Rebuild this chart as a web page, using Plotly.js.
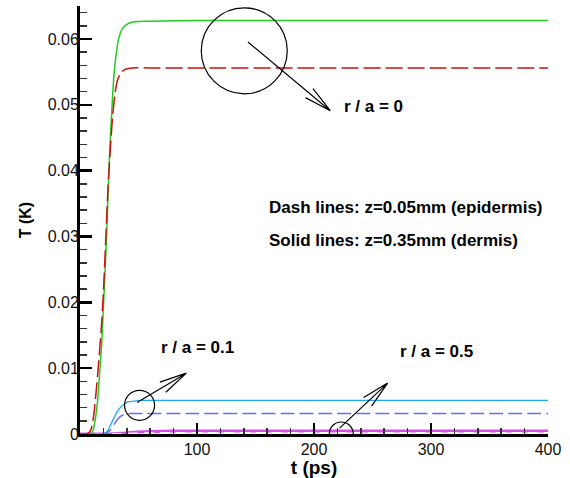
<!DOCTYPE html>
<html>
<head>
<meta charset="utf-8">
<script src="https://cdn.plot.ly/plotly-3.0.1.min.js"></script>
<style>html,body{margin:0;padding:0;background:#fff;}#chart{width:570px;height:478px;}</style>
</head>
<body>
<div id="chart"></div>
<script>
// r/a = 0, dermis (solid, z=0.35mm)
var t_r0_solid = [0, 9, 11, 13, 15, 17, 18.5, 20, 21.5, 23, 25, 27, 29, 31, 33, 36, 40, 46, 60, 100, 200, 300, 400];
var T_r0_solid = [0, 0, 0.0005, 0.0022, 0.005, 0.0098, 0.0135, 0.0192, 0.025, 0.0315, 0.0415, 0.0485, 0.0545, 0.0578, 0.0600, 0.0615, 0.0622, 0.0626, 0.0627, 0.0628, 0.0628, 0.0628, 0.0628];
// r/a = 0, epidermis (dashed, z=0.05mm)
var t_r0_dash = [0, 6, 9, 11.5, 14.5, 16, 18, 20, 22, 24, 26, 28, 30, 32, 35, 39, 45, 60, 100, 200, 300, 400];
var T_r0_dash = [0, 0, 0.0005, 0.0025, 0.0078, 0.011, 0.0155, 0.0215, 0.0295, 0.0375, 0.0435, 0.0485, 0.0518, 0.0537, 0.0549, 0.0554, 0.0556, 0.0556, 0.0556, 0.0556, 0.0556, 0.0556];
// r/a = 0.1
var t_r01_solid = [0, 18, 21, 24, 27, 30, 33, 36, 39, 42, 46, 52, 60, 100, 200, 300, 400];
var T_r01_solid = [0, 0, 0.0001, 0.0006, 0.0017, 0.0028, 0.0037, 0.0043, 0.0047, 0.0049, 0.0050, 0.0051, 0.0051, 0.0051, 0.0051, 0.0051, 0.0051];
var t_r01_dash = [0, 20, 23, 26, 29, 32, 35, 38, 42, 50, 100, 200, 300, 400];
var T_r01_dash = [0, 0, 0.0002, 0.0006, 0.0014, 0.0022, 0.0027, 0.0030, 0.0031, 0.0031, 0.0031, 0.0031, 0.0031, 0.0031];
// r/a = 0.5
var t_r05 = [0, 25, 35, 45, 55, 70, 90, 150, 400];
var T_r05_solid = [0, 0, 0.0001, 0.00025, 0.00035, 0.00042, 0.00045, 0.00046, 0.00046];
var T_r05_dash = [0, 0, 0.00005, 0.0001, 0.00015, 0.00018, 0.0002, 0.0002, 0.0002];

var xTicks = [0, 100, 200, 300, 400];
var xTickText = ['', '100', '200', '300', '400'];

var labels = [
  {text: 'r / a = 0', t: 225, T: 0.0497},
  {text: 'Dash lines: z=0.05mm (epidermis)', t: 160.9, T: 0.0344},
  {text: 'Solid lines: z=0.35mm (dermis)', t: 160.9, T: 0.0294},
  {text: 'r / a = 0.1', t: 68.6, T: 0.0131},
  {text: 'r / a = 0.5', t: 272.9, T: 0.0126}
];

var FONT = 'Liberation Sans, Arial, Helvetica, sans-serif';

function line(x, y, color, width, dash) {
  return {x: x, y: y, type: 'scatter', mode: 'lines', hoverinfo: 'skip',
    line: {color: color, width: width, dash: dash || 'solid', shape: 'spline', smoothing: 0.6}};
}

var data = [
  line(t_r05, T_r05_solid, '#d84ee8', 3),
  line(t_r05, T_r05_dash, '#ffffff', 1.5, '10px,6px'),
  line(t_r01_dash, T_r01_dash, '#6a6af0', 1.5, '14px,5px'),
  line(t_r01_solid, T_r01_solid, '#18aaf0', 1.3),
  line(t_r0_solid, T_r0_solid, '#22cc22', 1.5),
  line(t_r0_dash, T_r0_dash, '#cc1111', 1.5, '17px,5px')
];

function circle(t, T, r) {
  return {type: 'circle', xref: 'x', yref: 'y', xsizemode: 'pixel', ysizemode: 'pixel',
    xanchor: t, yanchor: T, x0: -r, x1: r, y0: -r, y1: r,
    line: {color: '#000', width: 1.2}, layer: 'above'};
}
function arrow(t, T, dx, dy) {
  var L = Math.sqrt(dx * dx + dy * dy), ux = dx / L, uy = dy / L;
  var a = 12 * Math.PI / 180, h = 28;
  var c = Math.cos(a), s = Math.sin(a);
  var h1x = (ux * c - uy * s) * h, h1y = (ux * s + uy * c) * h;
  var h2x = (ux * c + uy * s) * h, h2y = (-ux * s + uy * c) * h;
  var p = 'M' + dx + ',' + dy + 'L0,0M' + h1x.toFixed(2) + ',' + h1y.toFixed(2) + 'L0,0L' + h2x.toFixed(2) + ',' + h2y.toFixed(2);
  return {type: 'path', xref: 'x', yref: 'y', xsizemode: 'pixel', ysizemode: 'pixel',
    xanchor: t, yanchor: T, path: p, line: {color: '#000', width: 1.2}, layer: 'above'};
}

var shapes = [
  circle(140.4, 0.0582, 43),
  arrow(213.9, 0.0491, -82.3, 68.7),
  circle(50.9, 0.00436, 15),
  arrow(90.9, 0.00924, -49.3, -29.4),
  circle(223.3, 0, 12),
  arrow(262.9, 0.00773, -48, -45)
];

var annotations = labels.map(function (l) {
  return {x: l.t, y: l.T, xref: 'x', yref: 'y', text: '<b>' + l.text + '</b>', showarrow: false,
    xanchor: 'left', yanchor: 'middle', borderpad: 0, font: {family: FONT, size: 17, color: '#000'}};
});

var layout = {
  width: 570, height: 478,
  margin: {l: 80, r: 22, t: 6, b: 44},
  paper_bgcolor: '#fff', plot_bgcolor: '#fff',
  showlegend: false,
  font: {family: FONT, color: '#000'},
  xaxis: {
    range: [0, 400], tickmode: 'array', tickvals: xTicks, ticktext: xTickText,
    ticks: 'inside', ticklen: 11, tickwidth: 2.5, tickcolor: '#000',
    minor: {tickmode: 'linear', tick0: 0, dtick: 20, ticks: 'inside', ticklen: 6, tickwidth: 1.5, tickcolor: '#333'},
    showline: true, linewidth: 3, linecolor: '#000', showgrid: false, zeroline: false,
    ticklabelstandoff: -1,
    tickfont: {family: FONT, size: 16, color: '#111'},
    title: {text: '<b>t (ps)</b>', font: {family: FONT, size: 19, color: '#000'}, standoff: 5}
  },
  yaxis: {
    range: [0, 0.065], tick0: 0, dtick: 0.01,
    ticks: 'inside', ticklen: 12, tickwidth: 2.5, tickcolor: '#000',
    minor: {tick0: 0, dtick: 0.002, ticks: 'inside', ticklen: 7, tickwidth: 1.5, tickcolor: '#333'},
    showline: true, linewidth: 3, linecolor: '#000', showgrid: false, zeroline: false,
    ticklabelstandoff: -5,
    tickfont: {family: FONT, size: 16, color: '#111'},
    title: {text: '<b>T (K)</b>', font: {family: FONT, size: 16, color: '#000'}, standoff: 13}
  },
  shapes: shapes,
  annotations: annotations
};

Plotly.newPlot('chart', data, layout, {staticPlot: true, displayModeBar: false});
</script>
</body>
</html>
